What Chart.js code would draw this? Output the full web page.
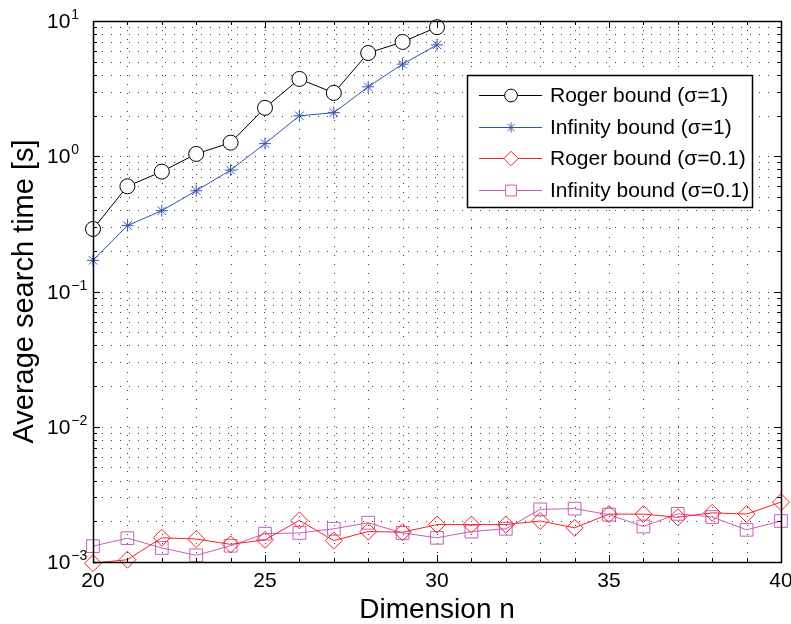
<!DOCTYPE html>
<html>
<head>
<meta charset="utf-8">
<style>
    html, body { margin: 0; padding: 0; background: #ffffff; }
</style>
</head>
<body>
<div style="width: 791px; height: 624px;">
    <canvas id="searchTimeChart" width="791" height="624"></canvas>
</div>
<script src="https://cdn.jsdelivr.net/npm/chart.js"></script>
<script>
    // values (seconds)
    var dimensions = [20, 21, 22, 23, 24, 25, 26, 27, 28, 29, 30, 31, 32, 33, 34, 35, 36, 37, 38, 39, 40];
    var rogerSigma1 = [0.29, 0.60, 0.77, 1.04, 1.26, 2.28, 3.73, 2.94, 5.8, 7.0, 9.0];
    var infinitySigma1 = [0.17, 0.307, 0.396, 0.556, 0.79, 1.24, 1.99, 2.1, 3.26, 4.8, 6.66];
    var rogerSigma01 = [0.00098, 0.00104, 0.00151, 0.00148, 0.00135, 0.00146, 0.00203, 0.00144, 0.00168, 0.00166, 0.00189,
                        0.00189, 0.00189, 0.00201, 0.00179, 0.00226, 0.00226, 0.00214, 0.00231, 0.00226, 0.00277];
    var infinitySigma01 = [0.00131, 0.00150, 0.00127, 0.00112, 0.00132, 0.00162, 0.00164, 0.00176, 0.00195, 0.00164, 0.00151,
                           0.00168, 0.00176, 0.00245, 0.00248, 0.00224, 0.00183, 0.00227, 0.00215, 0.00173, 0.00201];
    var seriesNames = ['Roger bound (\u03c3=1)', 'Infinity bound (\u03c3=1)', 'Roger bound (\u03c3=0.1)', 'Infinity bound (\u03c3=0.1)'];
    var xTickValues = [20, 25, 30, 35, 40];
    var yDecades = [-3, -2, -1, 0, 1];
    var xTitle = 'Dimension n';
    var yTitle = 'Average search time [s]';

    var FONT = "'Liberation Sans', Arial, Helvetica, sans-serif";

    function toPoints(values) {
        return values.map(function (v, i) { return { x: dimensions[i], y: v }; });
    }

    var seriesStyles = [
        { color: '#000000', pointStyle: 'circle', radius: 7.5, fill: '#ffffff' },
        { color: '#3453b0', pointStyle: 'star', radius: 6, fill: 'rgba(0,0,0,0)' },
        { color: '#f2232a', pointStyle: 'rectRot', radius: 8.5, fill: 'rgba(0,0,0,0)' },
        { color: '#c65fba', pointStyle: 'rect', radius: 9, fill: 'rgba(0,0,0,0)' }
    ];
    var seriesValues = [rogerSigma1, infinitySigma1, rogerSigma01, infinitySigma01];

    var matlabAxes = {
        id: 'matlabAxes',
        beforeDatasetsDraw: function (chart) {
            var ctx = chart.ctx, a = chart.chartArea;
            var xs = chart.scales.x, ys = chart.scales.y;
            ctx.save();
            ctx.strokeStyle = '#404040';
            ctx.lineWidth = 1;
            ctx.setLineDash([1, 8]);
            for (var n = 21; n < 40; n++) {
                var px = Math.round(xs.getPixelForValue(n)) + 0.5;
                ctx.beginPath(); ctx.moveTo(px, a.bottom); ctx.lineTo(px, a.top); ctx.stroke();
            }
            for (var k = -3; k <= 0; k++) {
                for (var m = 1; m <= 9; m++) {
                    if (k === -3 && m === 1) continue;
                    var py = Math.round(ys.getPixelForValue(m * Math.pow(10, k))) + 0.5;
                    ctx.beginPath(); ctx.moveTo(a.left, py); ctx.lineTo(a.right, py); ctx.stroke();
                }
            }
            ctx.restore();
        },
        afterDraw: function (chart) {
            var ctx = chart.ctx, a = chart.chartArea;
            var xs = chart.scales.x, ys = chart.scales.y;
            ctx.save();
            ctx.strokeStyle = '#000';
            ctx.fillStyle = '#000';
            ctx.lineWidth = 1;
            ctx.setLineDash([]);

            // ticks pointing inwards on all four sides
            ctx.beginPath();
            for (var n = 20; n <= 40; n++) {
                var px = Math.round(xs.getPixelForValue(n)) + 0.5;
                var len = (n % 5 === 0) ? 7 : 4;
                ctx.moveTo(px, a.bottom); ctx.lineTo(px, a.bottom - len);
                ctx.moveTo(px, a.top); ctx.lineTo(px, a.top + len);
            }
            for (var k = -3; k <= 0; k++) {
                for (var m = 1; m <= 9; m++) {
                    var py = Math.round(ys.getPixelForValue(m * Math.pow(10, k))) + 0.5;
                    var l2 = (m === 1) ? 7 : 4;
                    ctx.moveTo(a.left, py); ctx.lineTo(a.left + l2, py);
                    ctx.moveTo(a.right, py); ctx.lineTo(a.right - l2, py);
                }
            }
            ctx.stroke();

            // box
            ctx.lineWidth = 1.5;
            ctx.strokeRect(Math.round(a.left) + 0.5, Math.round(a.top) + 0.5,
                Math.round(a.right - a.left), Math.round(a.bottom - a.top));

            // x tick labels
            ctx.font = '21px ' + FONT;
            ctx.textAlign = 'center';
            ctx.textBaseline = 'alphabetic';
            xTickValues.forEach(function (v) {
                ctx.fillText(String(v), xs.getPixelForValue(v), a.bottom + 25);
            });

            // y tick labels 10^k
            yDecades.forEach(function (k) {
                var py = ys.getPixelForValue(Math.pow(10, k));
                ctx.font = '21px ' + FONT;
                ctx.textAlign = 'left';
                ctx.fillText('10', 47, py + 7);
                var w = ctx.measureText('10').width;
                ctx.font = '14px ' + FONT;
                var exp = k < 0 ? '\u2212' + (-k) : String(k);
                ctx.fillText(exp, 47 + w + 1, py - 2);
            });

            // axis titles
            ctx.font = '28px ' + FONT;
            ctx.textAlign = 'center';
            ctx.fillText(xTitle, (a.left + a.right) / 2, 618);
            ctx.font = '29px ' + FONT;
            ctx.save();
            ctx.translate(33, (a.top + a.bottom) / 2);
            ctx.rotate(-Math.PI / 2);
            ctx.fillText(yTitle, 0, 0);
            ctx.restore();

            // legend
            var bx = 467, by = 75, bw = 285, bh = 132;
            ctx.fillStyle = '#fff';
            ctx.fillRect(bx, by, bw, bh);
            ctx.lineWidth = 1.5;
            ctx.strokeStyle = '#000';
            ctx.strokeRect(bx + 0.5, by + 0.5, bw, bh);
            var rowsY = [95, 127, 158, 190];
            seriesNames.forEach(function (name, i) {
                var st = seriesStyles[i];
                var ry = rowsY[i] + 0.5;
                ctx.strokeStyle = st.color;
                ctx.lineWidth = 1;
                ctx.beginPath(); ctx.moveTo(479, ry); ctx.lineTo(542, ry); ctx.stroke();
                ctx.fillStyle = '#fff';
                Chart.helpers.drawPoint(ctx, { pointStyle: st.pointStyle, radius: st.radius * 0.85, rotation: 0, borderWidth: 1 }, 511, ry);
                ctx.fillStyle = '#000';
                ctx.font = '21px ' + FONT;
                ctx.textAlign = 'left';
                ctx.textBaseline = 'middle';
                ctx.fillText(name, 550, ry + 1);
                ctx.textBaseline = 'alphabetic';
            });
            ctx.restore();
        }
    };

    document.addEventListener('DOMContentLoaded', function () {
        var ctx = document.getElementById('searchTimeChart').getContext('2d');
        var datasets = seriesValues.map(function (vals, i) {
            var st = seriesStyles[i];
            return {
                label: seriesNames[i],
                data: toPoints(vals),
                borderColor: st.color,
                borderWidth: 1,
                pointStyle: st.pointStyle,
                pointRadius: st.radius,
                pointBorderColor: st.color,
                pointBackgroundColor: st.fill,
                pointBorderWidth: 1,
                fill: false,
                tension: 0,
                clip: false
            };
        });

        new Chart(ctx, {
            type: 'line',
            data: { datasets: datasets },
            options: {
                responsive: false,
                animation: false,
                devicePixelRatio: 1,
                layout: { padding: { top: 21, right: 10, left: 0, bottom: 0 } },
                plugins: {
                    legend: { display: false },
                    tooltip: { enabled: false }
                },
                scales: {
                    x: {
                        type: 'linear', min: 20, max: 40,
                        grid: { display: false }, border: { display: false },
                        ticks: { display: false },
                        afterFit: function (scale) { scale.height = 62; }
                    },
                    y: {
                        type: 'logarithmic', min: 0.001, max: 10,
                        grid: { display: false }, border: { display: false },
                        ticks: { display: false },
                        afterFit: function (scale) { scale.width = 93; }
                    }
                }
            },
            plugins: [matlabAxes]
        });
    });
</script>
</body>
</html>
